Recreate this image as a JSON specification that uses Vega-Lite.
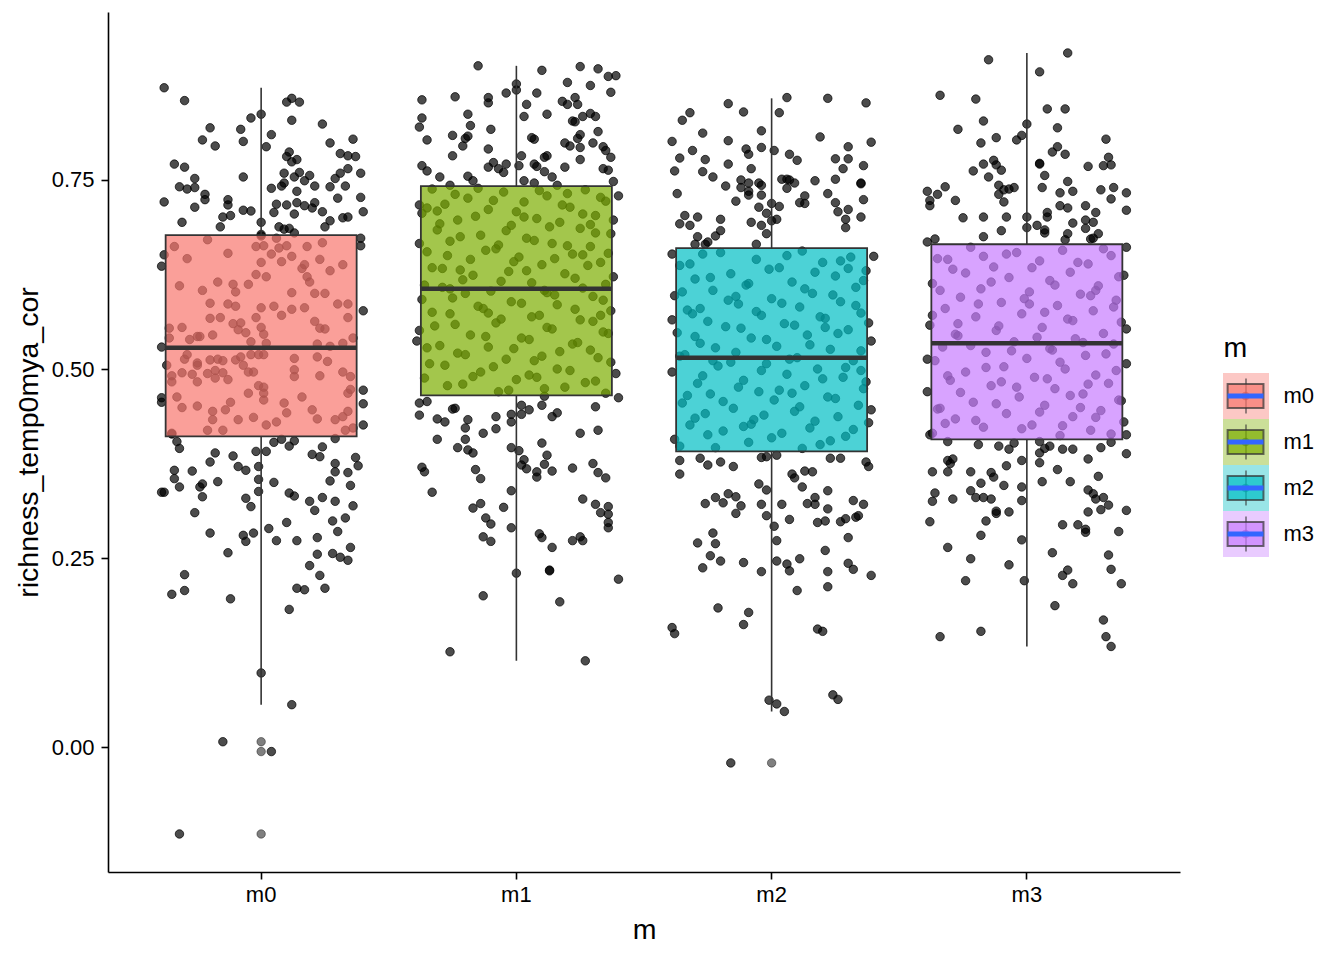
{
"$schema":"https://vega.github.io/schema/vega-lite/v6.json",
"background":"white",
"padding":{"left":14,"top":12,"right":5,"bottom":5},
"config":{"view":{"stroke":null},"font":"Liberation Sans","axis":{"grid":false,"domainColor":"#000","domainWidth":1.6,"tickColor":"#000","tickWidth":1.6,"tickSize":7,"labelColor":"#000","labelFontSize":22,"titleColor":"#000","titleFontSize":28.5,"titleFontWeight":"normal"}},
"datasets":{
"stats":[{"m":"m0","lo":0.056,"q1":0.411,"med":0.528,"q3":0.677,"hi":0.872},{"m":"m1","lo":0.114,"q1":0.465,"med":0.606,"q3":0.742,"hi":0.901},{"m":"m2","lo":0.047,"q1":0.391,"med":0.515,"q3":0.660,"hi":0.858},{"m":"m3","lo":0.133,"q1":0.407,"med":0.534,"q3":0.665,"hi":0.918}],
"out":[{"m":"m0","v":0.007},{"m":"m0","v":-0.006},{"m":"m0","v":-0.115},{"m":"m2","v":-0.021}],
"d0":[{"j":-0.38,"v":0.872},{"j":-0.30,"v":0.855},{"j":0.00,"v":0.837},{"j":-0.04,"v":0.832},{"j":0.12,"v":0.858},{"j":0.10,"v":0.853},{"j":0.15,"v":0.853},{"j":0.12,"v":0.829},{"j":0.24,"v":0.824},{"j":-0.20,"v":0.819},{"j":-0.08,"v":0.817},{"j":0.04,"v":0.810},{"j":-0.23,"v":0.803},{"j":-0.18,"v":0.795},{"j":-0.07,"v":0.801},{"j":0.02,"v":0.794},{"j":0.27,"v":0.799},{"j":0.36,"v":0.804},{"j":0.31,"v":0.785},{"j":0.34,"v":0.782},{"j":0.37,"v":0.781},{"j":0.10,"v":0.781},{"j":0.11,"v":0.787},{"j":0.14,"v":0.777},{"j":0.12,"v":0.774},{"j":-0.34,"v":0.771},{"j":-0.30,"v":0.767},{"j":-0.26,"v":0.752},{"j":-0.07,"v":0.754},{"j":0.09,"v":0.759},{"j":0.13,"v":0.754},{"j":0.15,"v":0.760},{"j":0.19,"v":0.756},{"j":0.17,"v":0.749},{"j":0.34,"v":0.765},{"j":0.31,"v":0.759},{"j":0.29,"v":0.752},{"j":0.39,"v":0.759},{"j":-0.32,"v":0.741},{"j":-0.29,"v":0.738},{"j":-0.26,"v":0.740},{"j":0.04,"v":0.739},{"j":0.08,"v":0.742},{"j":0.09,"v":0.746},{"j":0.21,"v":0.742},{"j":0.27,"v":0.741},{"j":0.33,"v":0.742},{"j":0.14,"v":0.735},{"j":-0.22,"v":0.731},{"j":-0.22,"v":0.724},{"j":-0.38,"v":0.721},{"j":-0.13,"v":0.724},{"j":-0.13,"v":0.717},{"j":0.06,"v":0.718},{"j":0.10,"v":0.717},{"j":0.14,"v":0.720},{"j":0.17,"v":0.716},{"j":0.21,"v":0.720},{"j":0.20,"v":0.713},{"j":0.30,"v":0.726},{"j":0.39,"v":0.727},{"j":-0.26,"v":0.714},{"j":-0.07,"v":0.710},{"j":-0.04,"v":0.709},{"j":0.05,"v":0.707},{"j":0.24,"v":0.708},{"j":0.40,"v":0.708},{"j":0.13,"v":0.705},{"j":-0.31,"v":0.694},{"j":-0.15,"v":0.701},{"j":-0.12,"v":0.703},{"j":0.00,"v":0.694},{"j":0.27,"v":0.696},{"j":0.25,"v":0.688},{"j":0.32,"v":0.700},{"j":0.34,"v":0.701},{"j":-0.16,"v":0.688},{"j":0.07,"v":0.688},{"j":0.09,"v":0.685},{"j":0.11,"v":0.686},{"j":0.13,"v":0.680},{"j":0.00,"v":0.678},{"j":0.39,"v":0.673},{"j":0.39,"v":0.663},{"j":-0.38,"v":0.651},{"j":-0.39,"v":0.636},
{"j":-0.34,"v":0.662},{"j":-0.21,"v":0.671},{"j":-0.29,"v":0.646},{"j":-0.13,"v":0.653},{"j":0.00,"v":0.676},{"j":-0.02,"v":0.662},{"j":0.01,"v":0.663},{"j":0.06,"v":0.673},{"j":0.07,"v":0.660},{"j":0.10,"v":0.663},{"j":0.04,"v":0.652},{"j":0.08,"v":0.642},{"j":0.12,"v":0.649},{"j":0.18,"v":0.662},{"j":0.24,"v":0.667},{"j":0.23,"v":0.645},{"j":0.32,"v":0.638},{"j":0.00,"v":0.641},{"j":0.16,"v":0.633},{"j":0.17,"v":0.638},{"j":0.27,"v":0.630},{"j":0.18,"v":0.622},{"j":0.19,"v":0.615},{"j":-0.02,"v":0.625},{"j":0.02,"v":0.622},{"j":-0.32,"v":0.610},{"j":-0.17,"v":0.615},{"j":-0.11,"v":0.612},{"j":-0.10,"v":0.602},{"j":-0.05,"v":0.612},{"j":-0.23,"v":0.604},{"j":0.12,"v":0.601},{"j":0.21,"v":0.600},{"j":0.25,"v":0.600},{"j":-0.20,"v":0.587},{"j":-0.13,"v":0.586},{"j":-0.10,"v":0.583},{"j":0.00,"v":0.581},{"j":0.05,"v":0.583},{"j":0.12,"v":0.579},{"j":0.17,"v":0.581},{"j":0.30,"v":0.586},{"j":0.34,"v":0.586},{"j":-0.20,"v":0.567},{"j":-0.16,"v":0.568},{"j":-0.11,"v":0.560},{"j":-0.08,"v":0.561},{"j":-0.02,"v":0.568},{"j":0.08,"v":0.571},{"j":0.21,"v":0.563},{"j":0.34,"v":0.568},{"j":-0.36,"v":0.554},{"j":-0.31,"v":0.555},{"j":-0.25,"v":0.543},{"j":-0.24,"v":0.543},{"j":-0.28,"v":0.539},{"j":-0.19,"v":0.545},{"j":-0.09,"v":0.552},{"j":-0.06,"v":0.548},{"j":0.00,"v":0.555},{"j":0.01,"v":0.546},{"j":0.23,"v":0.554},{"j":0.25,"v":0.553},{"j":0.36,"v":0.541},{"j":-0.36,"v":0.541},{"j":-0.04,"v":0.536},{"j":0.02,"v":0.534},{"j":0.22,"v":0.533},{"j":0.27,"v":0.530},{"j":0.32,"v":0.534},
{"j":-0.29,"v":0.519},{"j":-0.30,"v":0.513},{"j":-0.25,"v":0.508},{"j":-0.25,"v":0.505},{"j":-0.20,"v":0.512},{"j":-0.17,"v":0.513},{"j":-0.15,"v":0.511},{"j":-0.10,"v":0.512},{"j":-0.08,"v":0.516},{"j":-0.04,"v":0.519},{"j":-0.01,"v":0.519},{"j":0.01,"v":0.519},{"j":-0.07,"v":0.505},{"j":-0.37,"v":0.505},{"j":-0.35,"v":0.491},{"j":-0.35,"v":0.483},{"j":-0.31,"v":0.495},{"j":-0.27,"v":0.493},{"j":-0.25,"v":0.483},{"j":-0.21,"v":0.494},{"j":-0.18,"v":0.498},{"j":-0.18,"v":0.488},{"j":-0.15,"v":0.495},{"j":-0.13,"v":0.486},{"j":-0.05,"v":0.496},{"j":-0.03,"v":0.496},{"j":0.13,"v":0.514},{"j":0.22,"v":0.516},{"j":0.26,"v":0.510},{"j":0.13,"v":0.499},{"j":0.13,"v":0.490},{"j":0.23,"v":0.491},{"j":0.32,"v":0.496},{"j":0.35,"v":0.490},{"j":-0.01,"v":0.478},{"j":0.01,"v":0.476},{"j":0.01,"v":0.468},{"j":0.01,"v":0.459},{"j":-0.05,"v":0.468},{"j":-0.12,"v":0.456},{"j":-0.14,"v":0.446},{"j":-0.19,"v":0.444},{"j":-0.25,"v":0.451},{"j":-0.31,"v":0.449},{"j":-0.33,"v":0.463},{"j":-0.19,"v":0.433},{"j":-0.21,"v":0.419},{"j":-0.15,"v":0.419},{"j":-0.09,"v":0.433},{"j":-0.03,"v":0.436},{"j":0.02,"v":0.426},{"j":0.06,"v":0.430},{"j":0.09,"v":0.455},{"j":0.10,"v":0.442},{"j":0.16,"v":0.463},{"j":0.20,"v":0.446},{"j":0.22,"v":0.434},{"j":0.29,"v":0.433},{"j":0.32,"v":0.437},{"j":0.34,"v":0.444},{"j":0.34,"v":0.468},{"j":0.35,"v":0.473},{"j":0.33,"v":0.419},{"j":0.36,"v":0.422},{"j":-0.35,"v":0.414},{"j":-0.39,"v":0.529},{"j":-0.39,"v":0.462},{"j":-0.39,"v":0.456},{"j":0.40,"v":0.577},{"j":0.40,"v":0.472},{"j":0.40,"v":0.454},{"j":0.40,"v":0.426},{"j":-0.35,"v":0.415},
{"j":-0.33,"v":0.404},{"j":-0.32,"v":0.395},{"j":-0.18,"v":0.389},{"j":-0.20,"v":0.377},{"j":-0.11,"v":0.385},{"j":-0.09,"v":0.371},{"j":-0.06,"v":0.366},{"j":-0.02,"v":0.391},{"j":0.02,"v":0.391},{"j":-0.01,"v":0.371},{"j":-0.01,"v":0.354},{"j":-0.01,"v":0.338},{"j":0.05,"v":0.403},{"j":0.08,"v":0.407},{"j":0.11,"v":0.398},{"j":0.13,"v":0.405},{"j":0.05,"v":0.350},{"j":0.20,"v":0.387},{"j":0.23,"v":0.384},{"j":0.24,"v":0.397},{"j":0.29,"v":0.408},{"j":0.29,"v":0.375},{"j":0.29,"v":0.364},{"j":0.37,"v":0.383},{"j":0.38,"v":0.372},{"j":0.34,"v":0.363},{"j":0.27,"v":0.352},{"j":0.35,"v":0.346},{"j":-0.34,"v":0.366},{"j":-0.34,"v":0.355},{"j":-0.27,"v":0.365},{"j":-0.32,"v":0.344},{"j":-0.23,"v":0.348},{"j":-0.24,"v":0.344},{"j":-0.17,"v":0.351},{"j":-0.39,"v":0.337},{"j":-0.38,"v":0.337},{"j":-0.23,"v":0.331},{"j":-0.26,"v":0.310},{"j":-0.06,"v":0.329},{"j":-0.04,"v":0.318},{"j":0.11,"v":0.336},{"j":0.13,"v":0.332},{"j":0.19,"v":0.325},{"j":0.21,"v":0.313},{"j":0.24,"v":0.330},{"j":0.29,"v":0.325},{"j":0.36,"v":0.319},{"j":0.33,"v":0.303},{"j":0.28,"v":0.299},{"j":0.30,"v":0.285},{"j":0.10,"v":0.297},{"j":0.03,"v":0.289},{"j":-0.03,"v":0.283},{"j":-0.07,"v":0.280},{"j":-0.06,"v":0.272},{"j":0.06,"v":0.273},{"j":0.14,"v":0.273},{"j":0.22,"v":0.277},{"j":-0.20,"v":0.283},{"j":-0.13,"v":0.257},{"j":0.22,"v":0.255},{"j":0.28,"v":0.256},{"j":0.31,"v":0.251},{"j":0.34,"v":0.247},{"j":0.35,"v":0.264},{"j":0.19,"v":0.240},{"j":0.23,"v":0.227},{"j":0.25,"v":0.210},{"j":0.14,"v":0.210},{"j":0.17,"v":0.208},{"j":-0.30,"v":0.228},{"j":-0.30,"v":0.207},{"j":-0.35,"v":0.202},{"j":-0.12,"v":0.196},{"j":0.11,"v":0.182},{"j":0.00,"v":0.098},{"j":0.12,"v":0.056},{"j":-0.15,"v":0.007},{"j":0.04,"v":-0.006},{"j":-0.32,"v":-0.115}],
"d1":[{"j":-0.15,"v":0.901},{"j":0.10,"v":0.895},{"j":0.25,"v":0.900},{"j":0.32,"v":0.897},{"j":0.36,"v":0.887},{"j":0.39,"v":0.888},{"j":0.20,"v":0.879},{"j":0.29,"v":0.875},{"j":0.00,"v":0.877},{"j":0.00,"v":0.869},{"j":-0.04,"v":0.865},{"j":0.08,"v":0.865},{"j":0.37,"v":0.866},{"j":-0.37,"v":0.856},{"j":-0.24,"v":0.860},{"j":-0.11,"v":0.859},{"j":-0.11,"v":0.852},{"j":0.04,"v":0.850},{"j":0.18,"v":0.854},{"j":0.20,"v":0.850},{"j":0.23,"v":0.859},{"j":0.24,"v":0.850},{"j":-0.37,"v":0.832},{"j":-0.38,"v":0.820},{"j":-0.19,"v":0.837},{"j":-0.18,"v":0.822},{"j":0.03,"v":0.834},{"j":0.12,"v":0.837},{"j":0.26,"v":0.834},{"j":0.29,"v":0.838},{"j":0.31,"v":0.834},{"j":0.22,"v":0.828},{"j":0.23,"v":0.827},{"j":-0.10,"v":0.817},{"j":0.32,"v":0.814},{"j":-0.35,"v":0.803},{"j":-0.25,"v":0.809},{"j":-0.20,"v":0.805},{"j":-0.19,"v":0.808},{"j":-0.21,"v":0.795},{"j":-0.11,"v":0.791},{"j":0.06,"v":0.806},{"j":0.07,"v":0.804},{"j":0.19,"v":0.799},{"j":0.21,"v":0.795},{"j":0.24,"v":0.805},{"j":0.25,"v":0.810},{"j":0.25,"v":0.793},{"j":0.30,"v":0.799},{"j":0.34,"v":0.794},{"j":0.35,"v":0.789},{"j":0.37,"v":0.780},{"j":-0.25,"v":0.782},{"j":0.11,"v":0.780},{"j":0.12,"v":0.782},{"j":0.25,"v":0.777},{"j":0.02,"v":0.782},{"j":0.01,"v":0.769},{"j":-0.37,"v":0.769},{"j":-0.35,"v":0.762},{"j":-0.11,"v":0.767},{"j":-0.09,"v":0.773},{"j":-0.07,"v":0.765},{"j":-0.04,"v":0.771},{"j":-0.05,"v":0.760},{"j":0.07,"v":0.771},{"j":0.08,"v":0.768},{"j":0.11,"v":0.761},{"j":0.19,"v":0.767},{"j":0.34,"v":0.765},{"j":0.36,"v":0.763},{"j":-0.30,"v":0.754},{"j":-0.19,"v":0.755},{"j":-0.17,"v":0.749},{"j":-0.26,"v":0.743},{"j":0.03,"v":0.749},{"j":0.07,"v":0.746},{"j":0.14,"v":0.754},{"j":0.16,"v":0.743},{"j":0.38,"v":0.748},{"j":0.40,"v":0.729},{"j":-0.38,"v":0.717},
{"j":-0.33,"v":0.738},{"j":-0.05,"v":0.734},{"j":0.27,"v":0.737},{"j":0.12,"v":0.729},{"j":-0.19,"v":0.726},{"j":0.35,"v":0.722},{"j":-0.28,"v":0.718},{"j":0.03,"v":0.721},{"j":0.21,"v":0.714},{"j":-0.11,"v":0.711},{"j":-0.37,"v":0.706},{"j":0.31,"v":0.703},{"j":0.08,"v":0.699},{"j":-0.23,"v":0.697},{"j":0.17,"v":0.694},{"j":-0.02,"v":0.690},{"j":0.25,"v":0.686},{"j":-0.31,"v":0.684},{"j":0.37,"v":0.679},{"j":-0.14,"v":0.677},{"j":0.04,"v":0.673},{"j":-0.26,"v":0.669},{"j":0.14,"v":0.666},{"j":0.29,"v":0.662},{"j":-0.08,"v":0.659},{"j":-0.35,"v":0.655},{"j":0.22,"v":0.652},{"j":0.01,"v":0.648},{"j":-0.18,"v":0.645},{"j":0.33,"v":0.641},{"j":0.10,"v":0.638},{"j":-0.29,"v":0.633},{"j":-0.03,"v":0.629},{"j":0.19,"v":0.626},{"j":0.38,"v":0.622},{"j":-0.21,"v":0.618},{"j":0.06,"v":0.614},{"j":-0.36,"v":0.611},{"j":0.26,"v":0.607},{"j":-0.10,"v":0.603},{"j":0.15,"v":0.598},{"j":-0.25,"v":0.594},{"j":0.34,"v":0.591},{"j":0.02,"v":0.587},{"j":-0.15,"v":0.583},{"j":0.23,"v":0.579},{"j":-0.33,"v":0.575},{"j":0.09,"v":0.571},{"j":-0.06,"v":0.566},{"j":0.30,"v":0.563},{"j":-0.24,"v":0.559},{"j":0.12,"v":0.555},{"j":-0.38,"v":0.551},{"j":0.36,"v":0.547},{"j":-0.12,"v":0.543},{"j":0.05,"v":0.539},{"j":0.24,"v":0.535},{"j":-0.30,"v":0.531},{"j":-0.01,"v":0.527},{"j":0.17,"v":0.523},{"j":-0.20,"v":0.519},{"j":0.32,"v":0.515},{"j":0.07,"v":0.511},{"j":-0.34,"v":0.507},{"j":-0.09,"v":0.503},{"j":0.21,"v":0.498},{"j":0.39,"v":0.494},{"j":-0.17,"v":0.490},{"j":0.00,"v":0.486},{"j":0.27,"v":0.482},{"j":-0.27,"v":0.478},{"j":0.11,"v":0.474},{"j":-0.07,"v":0.470},
{"j":0.09,"v":0.736},{"j":-0.24,"v":0.731},{"j":0.33,"v":0.727},{"j":-0.09,"v":0.723},{"j":0.18,"v":0.717},{"j":-0.35,"v":0.713},{"j":0.00,"v":0.708},{"j":0.26,"v":0.705},{"j":-0.16,"v":0.702},{"j":0.38,"v":0.697},{"j":-0.30,"v":0.692},{"j":0.13,"v":0.688},{"j":-0.04,"v":0.683},{"j":0.31,"v":0.680},{"j":-0.22,"v":0.675},{"j":0.07,"v":0.670},{"j":-0.38,"v":0.666},{"j":0.20,"v":0.663},{"j":-0.12,"v":0.657},{"j":0.36,"v":0.653},{"j":-0.27,"v":0.650},{"j":0.15,"v":0.646},{"j":-0.01,"v":0.642},{"j":0.28,"v":0.637},{"j":-0.33,"v":0.634},{"j":0.04,"v":0.630},{"j":-0.17,"v":0.624},{"j":0.23,"v":0.620},{"j":-0.06,"v":0.616},{"j":0.35,"v":0.612},{"j":-0.29,"v":0.608},{"j":0.11,"v":0.604},{"j":-0.20,"v":0.600},{"j":0.30,"v":0.596},{"j":-0.37,"v":0.592},{"j":-0.02,"v":0.589},{"j":0.16,"v":0.585},{"j":-0.13,"v":0.580},{"j":0.37,"v":0.577},{"j":-0.26,"v":0.573},{"j":0.06,"v":0.569},{"j":0.25,"v":0.565},{"j":-0.08,"v":0.561},{"j":-0.32,"v":0.557},{"j":0.14,"v":0.553},{"j":0.34,"v":0.549},{"j":-0.18,"v":0.545},{"j":0.02,"v":0.541},{"j":-0.39,"v":0.537},{"j":0.22,"v":0.533},{"j":-0.11,"v":0.529},{"j":0.29,"v":0.525},{"j":-0.23,"v":0.521},{"j":0.10,"v":0.517},{"j":-0.04,"v":0.513},{"j":0.37,"v":0.509},{"j":-0.28,"v":0.505},{"j":0.16,"v":0.500},{"j":-0.14,"v":0.496},{"j":0.05,"v":0.492},{"j":-0.36,"v":0.488},{"j":0.31,"v":0.484},{"j":-0.21,"v":0.480},{"j":0.19,"v":0.476},{"j":-0.03,"v":0.472},{"j":0.35,"v":0.468},
{"j":-0.15,"v":0.739},{"j":0.20,"v":0.732},{"j":-0.31,"v":0.709},{"j":0.29,"v":0.691},{"j":-0.07,"v":0.664},{"j":-0.22,"v":0.631},{"j":0.12,"v":0.601},{"j":0.33,"v":0.571},{"j":-0.35,"v":0.528},{"j":0.08,"v":0.489},{"j":-0.26,"v":0.606},{"j":0.26,"v":0.651},{"j":-0.11,"v":0.574},{"j":0.03,"v":0.701},
{"j":-0.38,"v":0.455},{"j":-0.38,"v":0.439},{"j":-0.35,"v":0.457},{"j":-0.25,"v":0.447},{"j":-0.24,"v":0.448},{"j":-0.31,"v":0.434},{"j":-0.28,"v":0.430},{"j":-0.19,"v":0.433},{"j":-0.20,"v":0.422},{"j":-0.13,"v":0.415},{"j":-0.08,"v":0.437},{"j":-0.08,"v":0.421},{"j":-0.02,"v":0.440},{"j":-0.02,"v":0.430},{"j":0.02,"v":0.452},{"j":0.02,"v":0.440},{"j":0.05,"v":0.446},{"j":0.10,"v":0.452},{"j":0.11,"v":0.464},{"j":0.14,"v":0.437},{"j":0.16,"v":0.442},{"j":0.31,"v":0.450},{"j":0.40,"v":0.462},{"j":0.32,"v":0.419},{"j":0.25,"v":0.415},{"j":-0.31,"v":0.407},{"j":-0.23,"v":0.396},{"j":-0.19,"v":0.393},{"j":-0.17,"v":0.389},{"j":-0.20,"v":0.407},{"j":-0.02,"v":0.396},{"j":0.01,"v":0.392},{"j":0.10,"v":0.402},{"j":0.12,"v":0.386},{"j":0.03,"v":0.380},{"j":0.02,"v":0.373},{"j":0.04,"v":0.368},{"j":0.11,"v":0.374},{"j":0.14,"v":0.365},{"j":0.08,"v":0.364},{"j":0.08,"v":0.357},{"j":0.22,"v":0.369},{"j":0.30,"v":0.375},{"j":0.32,"v":0.363},{"j":0.35,"v":0.356},{"j":-0.37,"v":0.370},{"j":-0.36,"v":0.364},{"j":-0.16,"v":0.367},{"j":-0.14,"v":0.355},{"j":-0.33,"v":0.337},{"j":-0.02,"v":0.339},{"j":-0.14,"v":0.322},{"j":-0.17,"v":0.316},{"j":-0.05,"v":0.317},{"j":-0.12,"v":0.303},{"j":-0.10,"v":0.295},{"j":-0.13,"v":0.278},{"j":-0.10,"v":0.272},{"j":-0.02,"v":0.290},{"j":0.26,"v":0.328},{"j":0.31,"v":0.321},{"j":0.36,"v":0.318},{"j":0.33,"v":0.310},{"j":0.36,"v":0.308},{"j":0.36,"v":0.297},{"j":0.36,"v":0.290},{"j":0.09,"v":0.282},{"j":0.10,"v":0.277},{"j":0.14,"v":0.264},{"j":0.22,"v":0.273},{"j":0.25,"v":0.278},{"j":0.26,"v":0.273},{"j":0.13,"v":0.234},{"j":0.13,"v":0.233},{"j":0.00,"v":0.230},{"j":0.40,"v":0.222},{"j":-0.13,"v":0.200},{"j":0.17,"v":0.192},{"j":-0.26,"v":0.126},{"j":0.27,"v":0.114}],
"d2":[{"j":0.06,"v":0.859},{"j":0.22,"v":0.858},{"j":0.37,"v":0.852},{"j":-0.17,"v":0.851},{"j":-0.32,"v":0.839},{"j":-0.35,"v":0.829},{"j":-0.11,"v":0.840},{"j":0.03,"v":0.839},{"j":-0.27,"v":0.812},{"j":-0.04,"v":0.815},{"j":0.19,"v":0.807},{"j":-0.39,"v":0.801},{"j":-0.17,"v":0.802},{"j":0.39,"v":0.800},{"j":-0.31,"v":0.789},{"j":-0.10,"v":0.791},{"j":-0.09,"v":0.784},{"j":-0.04,"v":0.793},{"j":0.01,"v":0.789},{"j":0.07,"v":0.784},{"j":0.10,"v":0.776},{"j":0.30,"v":0.794},{"j":-0.36,"v":0.779},{"j":-0.26,"v":0.777},{"j":0.25,"v":0.778},{"j":0.30,"v":0.778},{"j":-0.38,"v":0.762},{"j":-0.27,"v":0.761},{"j":-0.17,"v":0.771},{"j":-0.08,"v":0.765},{"j":0.28,"v":0.765},{"j":0.36,"v":0.769},{"j":-0.23,"v":0.754},{"j":-0.12,"v":0.750},{"j":-0.09,"v":0.746},{"j":-0.12,"v":0.740},{"j":-0.05,"v":0.746},{"j":-0.04,"v":0.743},{"j":0.04,"v":0.751},{"j":0.06,"v":0.751},{"j":0.07,"v":0.750},{"j":0.06,"v":0.739},{"j":0.09,"v":0.746},{"j":0.17,"v":0.749},{"j":0.25,"v":0.751},{"j":0.35,"v":0.746},{"j":0.35,"v":0.745},{"j":-0.18,"v":0.742},{"j":-0.09,"v":0.735},{"j":-0.09,"v":0.730},{"j":-0.04,"v":0.730},{"j":-0.37,"v":0.732},{"j":0.13,"v":0.729},{"j":0.11,"v":0.720},{"j":0.13,"v":0.719},{"j":0.22,"v":0.732},{"j":0.36,"v":0.724},{"j":0.25,"v":0.720},{"j":-0.14,"v":0.722},{"j":-0.05,"v":0.714},{"j":0.00,"v":0.719},{"j":0.03,"v":0.715},{"j":0.26,"v":0.708},{"j":0.30,"v":0.711},{"j":-0.02,"v":0.706},{"j":0.02,"v":0.698},{"j":0.00,"v":0.696},{"j":-0.34,"v":0.703},{"j":-0.29,"v":0.701},{"j":-0.36,"v":0.692},{"j":-0.32,"v":0.690},{"j":-0.20,"v":0.698},{"j":-0.08,"v":0.694},{"j":-0.04,"v":0.690},{"j":0.29,"v":0.698},{"j":0.35,"v":0.701},{"j":0.29,"v":0.687},{"j":-0.20,"v":0.683},{"j":-0.22,"v":0.676},{"j":-0.29,"v":0.675},{"j":-0.25,"v":0.668},{"j":-0.26,"v":0.665},{"j":-0.30,"v":0.665},{"j":-0.02,"v":0.679},{"j":-0.06,"v":0.665},{"j":-0.39,"v":0.652},{"j":0.40,"v":0.649},
{"j":0.12,"v":0.656},{"j":-0.27,"v":0.652},{"j":0.31,"v":0.648},{"j":-0.06,"v":0.645},{"j":0.20,"v":0.641},{"j":-0.36,"v":0.637},{"j":0.03,"v":0.634},{"j":0.37,"v":0.630},{"j":-0.16,"v":0.626},{"j":0.25,"v":0.623},{"j":-0.30,"v":0.619},{"j":0.08,"v":0.615},{"j":-0.10,"v":0.611},{"j":0.33,"v":0.608},{"j":-0.23,"v":0.604},{"j":0.16,"v":0.600},{"j":-0.38,"v":0.597},{"j":0.00,"v":0.593},{"j":0.27,"v":0.589},{"j":-0.13,"v":0.586},{"j":0.11,"v":0.582},{"j":-0.33,"v":0.578},{"j":0.35,"v":0.574},{"j":-0.04,"v":0.571},{"j":0.21,"v":0.567},{"j":-0.25,"v":0.563},{"j":0.05,"v":0.560},{"j":-0.18,"v":0.556},{"j":0.30,"v":0.552},{"j":-0.37,"v":0.548},{"j":0.14,"v":0.545},{"j":-0.08,"v":0.541},{"j":0.39,"v":0.537},{"j":-0.28,"v":0.534},{"j":0.02,"v":0.530},{"j":0.23,"v":0.526},{"j":-0.14,"v":0.522},{"j":-0.34,"v":0.519},{"j":0.10,"v":0.515},{"j":0.32,"v":0.511},{"j":-0.02,"v":0.507},{"j":-0.21,"v":0.504},{"j":0.18,"v":0.500},{"j":-0.39,"v":0.496},{"j":0.06,"v":0.493},{"j":0.28,"v":0.489},{"j":-0.11,"v":0.485},{"j":-0.29,"v":0.481},{"j":0.13,"v":0.478},{"j":0.36,"v":0.474},{"j":-0.05,"v":0.470},{"j":-0.24,"v":0.467},{"j":0.22,"v":0.463},{"j":0.01,"v":0.459},{"j":-0.35,"v":0.455},{"j":0.34,"v":0.452},{"j":-0.15,"v":0.448},{"j":0.09,"v":0.444},{"j":-0.26,"v":0.441},{"j":0.26,"v":0.437},{"j":-0.07,"v":0.433},{"j":0.38,"v":0.429},{"j":-0.32,"v":0.426},{"j":0.15,"v":0.422},{"j":-0.19,"v":0.418},{"j":0.04,"v":0.415},{"j":0.29,"v":0.411},{"j":-0.38,"v":0.407},{"j":-0.09,"v":0.403},{"j":0.19,"v":0.400},{"j":-0.22,"v":0.396},
{"j":-0.20,"v":0.654},{"j":0.06,"v":0.650},{"j":0.27,"v":0.643},{"j":-0.32,"v":0.639},{"j":-0.01,"v":0.632},{"j":0.17,"v":0.628},{"j":-0.24,"v":0.621},{"j":0.36,"v":0.617},{"j":-0.09,"v":0.613},{"j":0.13,"v":0.606},{"j":-0.35,"v":0.602},{"j":0.24,"v":0.598},{"j":-0.17,"v":0.591},{"j":0.04,"v":0.587},{"j":0.33,"v":0.584},{"j":-0.28,"v":0.580},{"j":-0.06,"v":0.576},{"j":0.19,"v":0.569},{"j":-0.39,"v":0.565},{"j":0.38,"v":0.561},{"j":0.09,"v":0.558},{"j":-0.12,"v":0.554},{"j":0.26,"v":0.547},{"j":-0.30,"v":0.543},{"j":-0.02,"v":0.539},{"j":0.15,"v":0.532},{"j":-0.22,"v":0.528},{"j":0.35,"v":0.524},{"j":-0.36,"v":0.517},{"j":0.07,"v":0.513},{"j":-0.16,"v":0.509},{"j":0.29,"v":0.502},{"j":-0.04,"v":0.498},{"j":-0.27,"v":0.491},{"j":0.20,"v":0.487},{"j":0.37,"v":0.483},{"j":-0.13,"v":0.476},{"j":0.03,"v":0.472},{"j":-0.33,"v":0.465},{"j":0.25,"v":0.461},{"j":-0.19,"v":0.457},{"j":0.11,"v":0.450},{"j":0.39,"v":0.446},{"j":-0.03,"v":0.439},{"j":-0.30,"v":0.435},{"j":0.17,"v":0.431},{"j":-0.11,"v":0.424},{"j":0.32,"v":0.420},{"j":-0.25,"v":0.413},{"j":0.00,"v":0.409},{"j":0.23,"v":0.405},{"j":-0.36,"v":0.398},{"j":0.12,"v":0.395},
{"j":0.30,"v":0.633},{"j":-0.14,"v":0.596},{"j":0.21,"v":0.555},{"j":-0.23,"v":0.511},{"j":0.08,"v":0.468},{"j":-0.08,"v":0.427},{"j":0.35,"v":0.498},{"j":-0.31,"v":0.573},
{"j":-0.36,"v":0.379},{"j":-0.36,"v":0.361},{"j":-0.28,"v":0.382},{"j":-0.25,"v":0.373},{"j":-0.20,"v":0.377},{"j":-0.15,"v":0.371},{"j":-0.04,"v":0.383},{"j":-0.02,"v":0.384},{"j":0.02,"v":0.386},{"j":0.08,"v":0.361},{"j":0.09,"v":0.356},{"j":0.13,"v":0.365},{"j":0.16,"v":0.364},{"j":0.12,"v":0.344},{"j":0.23,"v":0.382},{"j":0.27,"v":0.382},{"j":0.37,"v":0.377},{"j":0.38,"v":0.371},{"j":-0.05,"v":0.348},{"j":-0.02,"v":0.340},{"j":0.22,"v":0.339},{"j":-0.26,"v":0.322},{"j":-0.22,"v":0.330},{"j":-0.19,"v":0.323},{"j":-0.17,"v":0.335},{"j":-0.14,"v":0.331},{"j":-0.12,"v":0.319},{"j":-0.14,"v":0.309},{"j":-0.04,"v":0.321},{"j":-0.02,"v":0.306},{"j":0.04,"v":0.321},{"j":0.14,"v":0.322},{"j":0.17,"v":0.330},{"j":0.17,"v":0.321},{"j":0.22,"v":0.315},{"j":0.32,"v":0.326},{"j":0.36,"v":0.321},{"j":0.07,"v":0.301},{"j":0.18,"v":0.297},{"j":0.21,"v":0.299},{"j":0.27,"v":0.298},{"j":0.29,"v":0.302},{"j":0.33,"v":0.304},{"j":0.34,"v":0.306},{"j":0.01,"v":0.292},{"j":-0.23,"v":0.283},{"j":-0.29,"v":0.270},{"j":-0.22,"v":0.269},{"j":0.02,"v":0.273},{"j":0.30,"v":0.277},{"j":-0.24,"v":0.253},{"j":-0.20,"v":0.246},{"j":-0.27,"v":0.237},{"j":-0.11,"v":0.244},{"j":-0.04,"v":0.232},{"j":0.02,"v":0.246},{"j":0.06,"v":0.242},{"j":0.07,"v":0.233},{"j":0.11,"v":0.249},{"j":0.21,"v":0.260},{"j":0.22,"v":0.232},{"j":0.22,"v":0.212},{"j":0.30,"v":0.243},{"j":0.32,"v":0.235},{"j":0.39,"v":0.227},{"j":0.10,"v":0.207},{"j":-0.21,"v":0.184},{"j":-0.09,"v":0.178},{"j":-0.11,"v":0.162},{"j":-0.39,"v":0.158},{"j":-0.38,"v":0.150},{"j":0.18,"v":0.156},{"j":0.20,"v":0.153},{"j":-0.01,"v":0.062},{"j":0.02,"v":0.057},{"j":0.05,"v":0.047},{"j":0.24,"v":0.069},{"j":0.26,"v":0.063},{"j":-0.16,"v":-0.021}],
"d3":[{"j":0.16,"v":0.918},{"j":-0.15,"v":0.909},{"j":0.05,"v":0.893},{"j":-0.34,"v":0.862},{"j":-0.20,"v":0.857},{"j":0.08,"v":0.844},{"j":0.15,"v":0.844},{"j":-0.17,"v":0.828},{"j":0.00,"v":0.824},{"j":-0.27,"v":0.817},{"j":0.12,"v":0.819},{"j":-0.12,"v":0.806},{"j":-0.18,"v":0.799},{"j":-0.04,"v":0.803},{"j":-0.02,"v":0.809},{"j":0.31,"v":0.804},{"j":0.10,"v":0.787},{"j":0.12,"v":0.794},{"j":0.15,"v":0.784},{"j":0.32,"v":0.780},{"j":-0.13,"v":0.776},{"j":-0.17,"v":0.771},{"j":-0.10,"v":0.763},{"j":-0.12,"v":0.770},{"j":0.05,"v":0.772},{"j":0.05,"v":0.771},{"j":0.24,"v":0.768},{"j":0.30,"v":0.769},{"j":0.33,"v":0.770},{"j":-0.21,"v":0.762},{"j":-0.15,"v":0.754},{"j":0.07,"v":0.756},{"j":0.16,"v":0.748},{"j":-0.39,"v":0.735},{"j":-0.38,"v":0.723},{"j":-0.38,"v":0.716},{"j":-0.35,"v":0.731},{"j":-0.32,"v":0.741},{"j":-0.28,"v":0.723},{"j":-0.11,"v":0.743},{"j":-0.11,"v":0.731},{"j":-0.09,"v":0.737},{"j":-0.07,"v":0.738},{"j":-0.05,"v":0.740},{"j":-0.09,"v":0.721},{"j":0.06,"v":0.740},{"j":0.13,"v":0.733},{"j":0.18,"v":0.735},{"j":0.29,"v":0.737},{"j":0.34,"v":0.740},{"j":0.33,"v":0.725},{"j":0.39,"v":0.733},{"j":0.13,"v":0.716},{"j":0.16,"v":0.713},{"j":0.23,"v":0.716},{"j":0.39,"v":0.710},{"j":0.27,"v":0.707},{"j":-0.25,"v":0.700},{"j":-0.17,"v":0.701},{"j":-0.08,"v":0.701},{"j":0.00,"v":0.701},{"j":0.08,"v":0.701},{"j":0.08,"v":0.707},{"j":0.18,"v":0.693},{"j":0.23,"v":0.697},{"j":0.26,"v":0.694},{"j":0.23,"v":0.686},{"j":-0.10,"v":0.683},{"j":0.00,"v":0.687},{"j":0.04,"v":0.690},{"j":0.07,"v":0.680},{"j":0.07,"v":0.684},{"j":0.16,"v":0.679},{"j":0.28,"v":0.679},{"j":0.25,"v":0.672},{"j":0.26,"v":0.673},{"j":-0.17,"v":0.675},{"j":-0.39,"v":0.668},{"j":-0.36,"v":0.672},{"j":0.15,"v":0.671},{"j":0.39,"v":0.661},
{"j":-0.22,"v":0.661},{"j":0.14,"v":0.657},{"j":-0.04,"v":0.654},{"j":0.33,"v":0.650},{"j":-0.35,"v":0.646},{"j":0.05,"v":0.643},{"j":0.24,"v":0.639},{"j":-0.13,"v":0.635},{"j":-0.29,"v":0.632},{"j":0.17,"v":0.628},{"j":0.38,"v":0.624},{"j":-0.07,"v":0.621},{"j":0.09,"v":0.617},{"j":-0.37,"v":0.613},{"j":0.28,"v":0.610},{"j":-0.18,"v":0.606},{"j":0.01,"v":0.602},{"j":0.21,"v":0.599},{"j":-0.26,"v":0.595},{"j":0.35,"v":0.591},{"j":-0.10,"v":0.588},{"j":0.12,"v":0.584},{"j":-0.32,"v":0.580},{"j":0.26,"v":0.577},{"j":-0.02,"v":0.573},{"j":-0.20,"v":0.569},{"j":0.16,"v":0.566},{"j":0.37,"v":0.562},{"j":-0.38,"v":0.558},{"j":0.06,"v":0.555},{"j":-0.12,"v":0.551},{"j":0.30,"v":0.547},{"j":-0.27,"v":0.544},{"j":0.19,"v":0.540},{"j":-0.05,"v":0.536},{"j":0.34,"v":0.533},{"j":-0.33,"v":0.529},{"j":0.10,"v":0.525},{"j":-0.16,"v":0.522},{"j":0.23,"v":0.518},{"j":0.00,"v":0.514},{"j":-0.36,"v":0.511},{"j":0.39,"v":0.507},{"j":-0.09,"v":0.503},{"j":0.15,"v":0.500},{"j":-0.24,"v":0.496},{"j":0.27,"v":0.492},{"j":0.03,"v":0.489},{"j":-0.30,"v":0.485},{"j":0.32,"v":0.481},{"j":-0.14,"v":0.478},{"j":0.11,"v":0.474},{"j":-0.39,"v":0.470},{"j":0.22,"v":0.467},{"j":-0.03,"v":0.463},{"j":0.36,"v":0.459},{"j":-0.21,"v":0.456},{"j":0.07,"v":0.452},{"j":-0.34,"v":0.448},{"j":0.29,"v":0.445},{"j":-0.08,"v":0.441},{"j":0.18,"v":0.437},{"j":-0.28,"v":0.434},{"j":0.38,"v":0.430},{"j":0.02,"v":0.426},{"j":-0.17,"v":0.423},{"j":0.25,"v":0.419},{"j":-0.37,"v":0.415},{"j":0.13,"v":0.412},
{"j":0.30,"v":0.659},{"j":-0.08,"v":0.652},{"j":-0.31,"v":0.645},{"j":0.20,"v":0.641},{"j":0.02,"v":0.634},{"j":-0.24,"v":0.627},{"j":0.36,"v":0.622},{"j":-0.14,"v":0.615},{"j":0.11,"v":0.611},{"j":-0.34,"v":0.604},{"j":0.25,"v":0.597},{"j":-0.01,"v":0.593},{"j":-0.19,"v":0.586},{"j":0.34,"v":0.582},{"j":0.07,"v":0.575},{"j":-0.37,"v":0.571},{"j":0.18,"v":0.564},{"j":-0.11,"v":0.557},{"j":0.39,"v":0.553},{"j":-0.28,"v":0.546},{"j":0.04,"v":0.542},{"j":0.22,"v":0.535},{"j":-0.22,"v":0.531},{"j":-0.06,"v":0.524},{"j":0.31,"v":0.520},{"j":-0.39,"v":0.513},{"j":0.13,"v":0.509},{"j":-0.16,"v":0.502},{"j":0.35,"v":0.498},{"j":-0.31,"v":0.491},{"j":0.08,"v":0.487},{"j":0.24,"v":0.480},{"j":-0.04,"v":0.476},{"j":-0.26,"v":0.469},{"j":0.17,"v":0.465},{"j":0.37,"v":0.458},{"j":-0.12,"v":0.454},{"j":-0.35,"v":0.447},{"j":0.05,"v":0.443},{"j":0.27,"v":0.436},{"j":-0.20,"v":0.432},{"j":0.14,"v":0.425},{"j":-0.02,"v":0.421},{"j":0.33,"v":0.414},
{"j":-0.17,"v":0.649},{"j":0.27,"v":0.604},{"j":-0.27,"v":0.560},{"j":0.09,"v":0.527},{"j":-0.10,"v":0.483},{"j":0.21,"v":0.449},{"j":-0.32,"v":0.428},{"j":0.01,"v":0.586},
{"j":-0.38,"v":0.413},{"j":-0.31,"v":0.404},{"j":-0.19,"v":0.400},{"j":-0.11,"v":0.398},{"j":-0.07,"v":0.394},{"j":-0.05,"v":0.402},{"j":0.05,"v":0.404},{"j":0.09,"v":0.398},{"j":0.14,"v":0.394},{"j":0.18,"v":0.394},{"j":0.29,"v":0.396},{"j":0.33,"v":0.403},{"j":0.39,"v":0.413},{"j":0.39,"v":0.388},{"j":0.05,"v":0.389},{"j":0.07,"v":0.395},{"j":-0.31,"v":0.379},{"j":-0.29,"v":0.381},{"j":-0.30,"v":0.375},{"j":-0.02,"v":0.379},{"j":0.05,"v":0.376},{"j":0.24,"v":0.381},{"j":-0.37,"v":0.364},{"j":-0.31,"v":0.364},{"j":-0.22,"v":0.364},{"j":-0.14,"v":0.363},{"j":-0.13,"v":0.357},{"j":-0.08,"v":0.372},{"j":0.12,"v":0.367},{"j":0.28,"v":0.358},{"j":0.06,"v":0.351},{"j":0.17,"v":0.351},{"j":-0.18,"v":0.349},{"j":-0.09,"v":0.346},{"j":-0.02,"v":0.344},{"j":-0.22,"v":0.339},{"j":-0.36,"v":0.336},{"j":-0.37,"v":0.325},{"j":-0.29,"v":0.328},{"j":-0.20,"v":0.330},{"j":-0.17,"v":0.330},{"j":-0.14,"v":0.328},{"j":-0.02,"v":0.326},{"j":0.24,"v":0.340},{"j":0.26,"v":0.335},{"j":0.27,"v":0.328},{"j":0.30,"v":0.330},{"j":0.32,"v":0.320},{"j":0.29,"v":0.314},{"j":0.24,"v":0.311},{"j":0.39,"v":0.313},{"j":-0.12,"v":0.312},{"j":-0.12,"v":0.309},{"j":-0.07,"v":0.311},{"j":-0.38,"v":0.298},{"j":-0.16,"v":0.299},{"j":0.14,"v":0.294},{"j":0.20,"v":0.294},{"j":0.23,"v":0.288},{"j":0.23,"v":0.284},{"j":0.36,"v":0.285},{"j":-0.18,"v":0.280},{"j":-0.02,"v":0.274},{"j":-0.31,"v":0.264},{"j":-0.22,"v":0.249},{"j":0.10,"v":0.257},{"j":0.32,"v":0.254},{"j":-0.07,"v":0.241},{"j":0.33,"v":0.235},{"j":0.14,"v":0.227},{"j":0.16,"v":0.234},{"j":-0.24,"v":0.220},{"j":-0.01,"v":0.220},{"j":0.18,"v":0.216},{"j":0.37,"v":0.216},{"j":0.11,"v":0.187},{"j":0.30,"v":0.168},{"j":-0.18,"v":0.153},{"j":-0.34,"v":0.146},{"j":0.31,"v":0.146},{"j":0.33,"v":0.133}]
},
"spacing":43,
"hconcat":[
{"width":1072,"height":860,
"layer":[
{"data":{"name":"d0"},"mark":{"type":"circle","size":72,"fill":"#000","fillOpacity":0.7,"stroke":"#000","strokeOpacity":0.7,"strokeWidth":1},
 "encoding":{"x":{"datum":"m0","type":"nominal"},"xOffset":{"field":"j","type":"quantitative","scale":{"domain":[-0.5,0.5]}},
 "y":{"field":"v","type":"quantitative","scale":{"domain":[-0.1653,0.9722],"nice":false,"zero":false},"axis":{"values":[0,0.25,0.5,0.75],"format":".2f","labelPadding":7,"titlePadding":8},"title":"richness_temp0mya_cor"}}},
{"data":{"name":"d1"},"mark":{"type":"circle","size":72,"fill":"#000","fillOpacity":0.7,"stroke":"#000","strokeOpacity":0.7,"strokeWidth":1},
 "encoding":{"x":{"datum":"m1","type":"nominal"},"xOffset":{"field":"j","type":"quantitative"},"y":{"field":"v","type":"quantitative"}}},
{"data":{"name":"d2"},"mark":{"type":"circle","size":72,"fill":"#000","fillOpacity":0.7,"stroke":"#000","strokeOpacity":0.7,"strokeWidth":1},
 "encoding":{"x":{"datum":"m2","type":"nominal"},"xOffset":{"field":"j","type":"quantitative"},"y":{"field":"v","type":"quantitative"}}},
{"data":{"name":"d3"},"mark":{"type":"circle","size":72,"fill":"#000","fillOpacity":0.7,"stroke":"#000","strokeOpacity":0.7,"strokeWidth":1},
 "encoding":{"x":{"datum":"m3","type":"nominal"},"xOffset":{"field":"j","type":"quantitative"},"y":{"field":"v","type":"quantitative"}}},
{"data":{"name":"out"},"mark":{"type":"circle","size":72,"fill":"#000","fillOpacity":0.5,"stroke":"#000","strokeOpacity":0.4,"strokeWidth":1},
 "encoding":{"x":{"field":"m","type":"nominal"},"y":{"field":"v","type":"quantitative"}}},
{"data":{"name":"stats"},"mark":{"type":"rule","color":"#333333","strokeWidth":1.6},
 "encoding":{"x":{"field":"m","type":"nominal","scale":{"domain":["m0","m1","m2","m3"],"paddingInner":0,"paddingOuter":0.1},"axis":{"labelAngle":0,"labelAlign":"center","labelBaseline":"top","labelPadding":5,"titlePadding":10},"title":"m"},"y":{"field":"lo","type":"quantitative"},"y2":{"field":"q1"}}},
{"data":{"name":"stats"},"mark":{"type":"rule","color":"#333333","strokeWidth":1.6},
 "encoding":{"x":{"field":"m","type":"nominal"},"y":{"field":"q3","type":"quantitative"},"y2":{"field":"hi"}}},
{"data":{"name":"stats"},"mark":{"type":"bar","width":191,"fillOpacity":0.7,"stroke":"#333333","strokeWidth":1.8},
 "encoding":{"x":{"field":"m","type":"nominal"},"y":{"field":"q1","type":"quantitative"},"y2":{"field":"q3"},
 "fill":{"field":"m","type":"nominal","scale":{"domain":["m0","m1","m2","m3"],"range":["#F8766D","#7CAE00","#00BFC4","#C77CFF"]},"legend":null}}},
{"data":{"name":"stats"},"mark":{"type":"tick","size":191,"thickness":4.5,"color":"#333333","opacity":1},
 "encoding":{"x":{"field":"m","type":"nominal"},"y":{"field":"med","type":"quantitative"}}}
]},
{"width":46,"height":860,"data":{"name":"stats"},
"encoding":{"y":{"field":"m","type":"nominal","scale":{"domain":["m0","m1","m2","m3"],"paddingInner":0,"paddingOuter":0,"range":[361,545]},
 "axis":{"orient":"right","domain":false,"ticks":false,"labelPadding":14,"title":"m","titleAngle":0,"titleX":-46,"titleY":344,"titleAlign":"left","titleBaseline":"alphabetic"}}},
"layer":[
{"mark":{"type":"bar","opacity":0.4},"encoding":{"x":{"datum":0,"type":"quantitative","scale":{"domain":[0,1]},"axis":null},"x2":{"datum":1},"height":{"band":1},
 "fill":{"field":"m","type":"nominal","scale":{"domain":["m0","m1","m2","m3"],"range":["#F8766D","#7CAE00","#00BFC4","#C77CFF"]},"legend":null}}},
{"mark":{"type":"bar","height":{"band":0.76},"fill":"#333333","opacity":0.75},"encoding":{"x":{"datum":0.485,"type":"quantitative"},"x2":{"datum":0.515}}},
{"mark":{"type":"bar","height":{"band":0.52},"fillOpacity":0.7,"stroke":"#333333","strokeOpacity":0.7,"strokeWidth":2},"encoding":{"x":{"datum":0.1,"type":"quantitative"},"x2":{"datum":0.88},
 "fill":{"field":"m","type":"nominal","legend":null}}},
{"mark":{"type":"circle","size":70,"opacity":0.6},"encoding":{"x":{"datum":0.49,"type":"quantitative"},"color":{"field":"m","type":"nominal","scale":{"domain":["m0","m1","m2","m3"],"range":["#D8564D","#5C8E00","#00A0A4","#A75CDF"]},"legend":null}}},
{"mark":{"type":"bar","height":{"band":0.11},"fill":"#3366FF"},"encoding":{"x":{"datum":0.1,"type":"quantitative"},"x2":{"datum":0.88}}}
]}
]
}
